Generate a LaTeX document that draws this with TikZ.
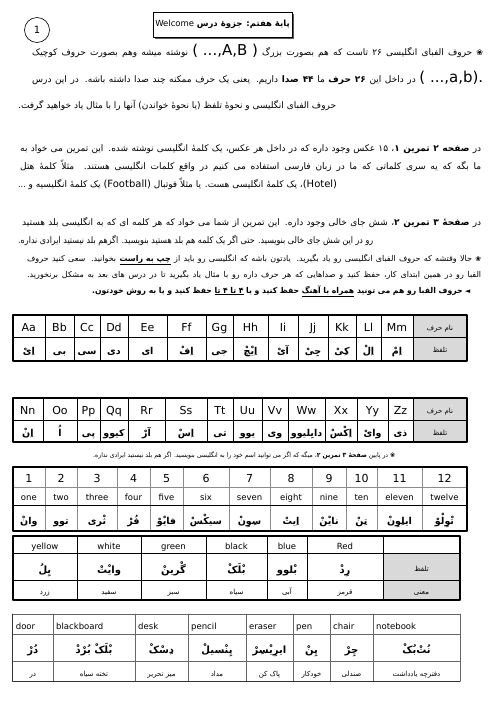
\documentclass[tikz,border=0pt]{standalone}
\usepackage{fontspec}
\usepackage{graphicx}
\setmainfont{DejaVu Sans}
\newfontfamily\fafont[Script=Arabic]{DejaVu Sans}
\newfontfamily\enfont{DejaVu Sans}
\TeXXeTstate=1
\definecolor{hdrgray}{HTML}{D9D9D9}

% persian run, english run, underline
\newcommand\fa[1]{{\fafont\beginR#1\endR}}
\newcommand\en[2]{\hbox{\enfont\fontsize{#1}{#1}\selectfont#2}}
\newcommand\ul[1]{\vtop{\hbox{\beginR#1\endR}\kern0.6pt\hrule height0.5pt}}
% justified line / natural line, squeezed if too long
\newsavebox\jbox
\newcommand\jline[2]{\sbox\jbox{#2}\ifdim\wd\jbox>#1\relax\resizebox{#1}{\ht\jbox}{\usebox\jbox}\else\makebox[#1][s]{#2}\fi}
\newcommand\nline[2]{\sbox\jbox{#2}\ifdim\wd\jbox>#1\relax\resizebox{#1}{\ht\jbox}{\usebox\jbox}\else\usebox\jbox\fi}

\begin{document}
\begin{tikzpicture}[x=1pt,y=-1pt,line cap=round,line join=round,
  txt/.style={anchor=base west,inner sep=0pt},
  outer/.style={line width=1.6pt},
  inner/.style={line width=0.6pt},
  grayline/.style={line width=0.6pt,black!45},
  cellen/.style={anchor=base,inner sep=0pt,font=\enfont\fontsize{11}{11}\selectfont},
  cellfa/.style={anchor=base,inner sep=0pt,font=\fafont\bfseries\fontsize{9.5}{9.5}\selectfont},
  cellsm/.style={anchor=base,inner sep=0pt,font=\fafont\fontsize{7}{7}\selectfont}]
\fill[white] (0,0) rectangle (496,702);
\useasboundingbox (0,0) rectangle (496,702);

% page number and title
\node[draw,circle,minimum size=25pt,inner sep=0pt,line width=0.6pt,font=\fontsize{10}{10}\selectfont] (pgno) at (37,30) {1};
\fill[black!65] (154.5,13.5) rectangle (293.5,38.5);
\node[draw,fill=white,line width=0.6pt,minimum width=139pt,minimum height=25pt,inner sep=0pt] (ttl) at (222.5,24.5)
  {\fontsize{8.5}{8.5}\selectfont\en{8.5}{Welcome} \fa{\bfseries پایهٔ هفتم: جزوهٔ درس}};

% paragraph 1 (pieces are written right to left)
\node[txt] (p1a) at (32,55) {\fontsize{9}{9}\selectfont\jline{451pt}{\fa{نوشته میشه وهم بصورت حروف کوچیک} \en{15}{( ...,A,B )} \fa{حروف الفبای انگلیسی ۲۶ تاست که هم بصورت بزرگ}\ \en{8}{❀}}};
\node[txt] (p1b) at (32,82) {\fontsize{9}{9}\selectfont\jline{451pt}{\fa{در داخل این {\bfseries ۲۶ حرف} ما {\bfseries ۴۴ صدا} داریم. یعنی یک حرف ممکنه چند صدا داشته باشه. در این درس} \en{15}{( ...,a,b).}}};
\node[txt] (p1c) at (18,108) {\fontsize{9}{9}\selectfont\nline{465pt}{\fa{حروف الفبای انگلیسی و نحوهٔ تلفظ (یا نحوهٔ خواندن) آنها را با مثال یاد خواهید گرفت.}}};

% paragraph 2
\node[txt] (p2a) at (20,151) {\fontsize{9}{9}\selectfont\jline{461pt}{\fa{در {\bfseries صفحه ۲ تمرین ۱}، ۱۵ عکس وجود داره که در داخل هر عکس، یک کلمهٔ انگلیسی نوشته شده. این تمرین می خواد به}}};
\node[txt] (p2b) at (20,169) {\fontsize{9}{9}\selectfont\jline{461pt}{\fa{ما بگه که یه سری کلماتی که ما در زبان فارسی استفاده می کنیم در واقع کلمات انگلیسی هستند. مثلاً کلمهٔ هتل}}};
\node[txt] (p2c) at (18,187) {\fontsize{9}{9}\selectfont\nline{362pt}{\en{8}{...} \fa{یک کلمهٔ انگلیسیه و} \en{10}{(Football)} \fa{یک کلمهٔ انگلیسی هست. یا مثلاً فوتبال} \fa{،}\en{10}{(Hotel)}}};

% paragraph 3
\node[txt] (p3a) at (22,225) {\fontsize{9}{9}\selectfont\jline{459pt}{\fa{در {\bfseries صفحهٔ ۳ تمرین ۲}، شش جای خالی وجود داره. این تمرین از شما می خواد که هر کلمه ای که به انگلیسی بلد هستید}}};
\node[txt] (p3b) at (18,243) {\fontsize{9}{9}\selectfont\nline{355pt}{\fa{رو در این شش جای خالی بنویسید. حتی اگر یک کلمه هم بلد هستید بنویسید. اگرهم بلد نیستید ایرادی نداره.}}};

% paragraph 4
\node[txt] (p4a) at (27,261) {\fontsize{8}{8}\selectfont\jline{454pt}{\fa{حالا وقتشه که حروف الفبای انگلیسی رو یاد بگیرید. یادتون باشه که انگلیسی رو باید از \ul{\bfseries چپ به راست} بخوانید. سعی کنید حروف}\ \en{7}{❀}}};
\node[txt] (p4b) at (27,277) {\fontsize{8}{8}\selectfont\jline{454pt}{\fa{الفبا رو در همین ابتدای کار، حفظ کنید و صداهایی که هر حرف داره رو با مثال یاد بگیرید تا در درس های بعد به مشکل برنخورید.}}};
\node[txt] (p4c) at (92,293) {\fontsize{8}{8}\selectfont\jline{378pt}{\fa{\bfseries حروف الفبا رو هم می تونید \ul{همراه با آهنگ} حفظ کنید و یا \ul{۴ تا ۴ تا} حفظ کنید و یا به روش خودتون.}\ \en{7}{◄}}};

% alphabet A-M
\fill[hdrgray] (413,315) rectangle (467,361);
\foreach \xa/\xb/\ltr/\snd [count=\i] in {12.7/45/Aa/اِیْ, 45/74/Bb/بی, 74/100/Cc/سی, 100/128/Dd/دی, 128/167/Ee/ای, 167/206/Ff/اِفْ, 206/233/Gg/جی, 233/268/Hh/اِیْچْ, 268/298/Ii/آیْ, 298/328/Jj/جِیْ, 328/356/Kk/کِیْ, 356/381/Ll/اِلْ, 381/413/Mm/اِمْ}{
  \node[cellen] (la\i) at ({(\xa+\xb)/2},331) {\ltr};
  \node[cellfa] (lb\i) at ({(\xa+\xb)/2},354) {\fa{\snd}};
  \draw[inner] (\xb,315) -- (\xb,361);
}
\node[cellsm] (ha1) at (440,330) {\fa{نام حرف}};
\node[cellsm] (hb1) at (440,352) {\fa{تلفظ}};
\draw[inner] (12.7,337) -- (467,337);
\draw[outer] (12.7,315) rectangle (467,361);

% alphabet N-Z
\fill[hdrgray] (413,398) rectangle (467,442);
\foreach \xa/\xb/\ltr/\snd [count=\i] in {12.7/43/Nn/اِنْ, 43/77/Oo/اُ, 77/100/Pp/پی, 100/128/Qq/کیوو, 128/165/Rr/آرْ, 165/207/Ss/اِسْ, 207/233/Tt/تی, 233/262/Uu/یوو, 262/288/Vv/وی, 288/325/Ww/دابِلیوو, 325/357/Xx/اِکْسْ, 357/388/Yy/وایْ, 388/413/Zz/ذی}{
  \node[cellen] (lc\i) at ({(\xa+\xb)/2},414) {\ltr};
  \node[cellfa] (ld\i) at ({(\xa+\xb)/2},436) {\fa{\snd}};
  \draw[inner] (\xb,398) -- (\xb,442);
}
\node[cellsm] (ha2) at (440,413) {\fa{نام حرف}};
\node[cellsm] (hb2) at (440,435) {\fa{تلفظ}};
\draw[inner] (12.7,420) -- (467,420);
\draw[outer] (12.7,398) rectangle (467,442);

% note
\node[txt] (note) at (93,457) {\fontsize{6.5}{6.5}\selectfont\nline{302pt}{\fa{در پایین {\bfseries صفحهٔ ۳ تمرین ۲}، میگه که اگر می توانید اسم خود را به انگلیسی بنویسید. اگر هم بلد نیستید ایرادی نداره.}\ \en{6.5}{❀}}};

% numbers
\foreach \xa/\xb/\num/\wrd/\snd [count=\i] in {12.7/45/1/one/وانْ, 45/77/2/two/توو, 77/117/3/three/ثْری, 117/150/4/four/فُرْ, 150/183/5/five/فایْوْ, 183/229/6/six/سیکْسْ, 229/270/7/seven/سِوِنْ, 270/312/8/eight/اِیتْ, 312/346/9/nine/نایْنْ, 346/377/10/ten/تِنْ, 377/422/11/eleven/ایلِوِنْ, 422/467/12/twelve/تْوِلْوْ}{
  \node[cellen] (na\i) at ({(\xa+\xb)/2},482) {\num};
  \node[cellen,font=\enfont\fontsize{8.5}{8.5}\selectfont] (nb\i) at ({(\xa+\xb)/2},500) {\wrd};
  \node[cellfa] (nc\i) at ({(\xa+\xb)/2},524) {\fa{\snd}};
  \draw[grayline] (\xb,467) -- (\xb,531);
}
\draw[grayline] (12.7,487) -- (467,487);
\draw[inner] (12.7,505) -- (467,505);
\draw[outer] (12.7,467) rectangle (467,531);

% colours
\fill[hdrgray] (383,553) rectangle (460,600);
\foreach \xa/\xb/\wrd/\snd/\mng [count=\i] in {12.7/77/yellow/یِلُ/زرد, 77/141/white/وایْتْ/سفید, 141/206/green/گْرینْ/سبز, 206/267/black/بْلَکْ/سیاه, 267/307/blue/بْلوو/آبی, 307/383/Red/رِدْ/قرمز}{
  \node[cellen,font=\enfont\fontsize{8.5}{8.5}\selectfont] (ca\i) at ({(\xa+\xb)/2},549) {\wrd};
  \node[cellfa,font=\fafont\bfseries\fontsize{10}{10}\selectfont] (cb\i) at ({(\xa+\xb)/2},573) {\fa{\snd}};
  \node[cellsm] (cc\i) at ({(\xa+\xb)/2},594) {\fa{\mng}};
  \draw[inner] (\xb,536) -- (\xb,600);
}
\node[cellsm] (hc1) at (421.5,571) {\fa{تلفظ}};
\node[cellsm] (hc2) at (421.5,594) {\fa{معنی}};
\draw[inner] (12.7,553) -- (460,553);
\draw[inner] (12.7,580) -- (460,580);
\draw[outer] (12.7,536) rectangle (460,600);

% classroom words
\foreach \xa/\xb/\wrd/\snd/\mng [count=\i] in {12.7/53/door/دُرْ/در, 53/135/blackboard/بْلَکْ بُرْدْ/تخته سیاه, 135/188/desk/دِسْکْ/میز تحریر, 188/246/pencil/پِنْسیلْ/مداد, 246/293/eraser/ایرِیْسِرْ/پاک کن, 293/330/pen/پِنْ/خودکار, 330/373/chair/چِرْ/صندلی, 373/460/notebook/نُتْ‌بُکْ/دفترچه یادداشت}{
  \node[txt,font=\enfont\fontsize{8.5}{8.5}\selectfont] (wa\i) at (\xa+3,629) {\wrd};
  \node[cellfa,font=\fafont\bfseries\fontsize{10}{10}\selectfont] (wb\i) at ({(\xa+\xb)/2},653) {\fa{\snd}};
  \node[cellsm] (wc\i) at ({(\xa+\xb)/2},676) {\fa{\mng}};
  \draw[inner,black!60] (\xb,614) -- (\xb,681);
}
\draw[inner,black!60] (12.7,634) -- (460,634);
\draw[inner,black!60] (12.7,661) -- (460,661);
\draw[inner,black!60] (12.7,614) -- (460,614);
\draw[line width=1pt,black!80] (12.7,614) -- (12.7,681) -- (460,681);
\end{tikzpicture}
\end{document}
